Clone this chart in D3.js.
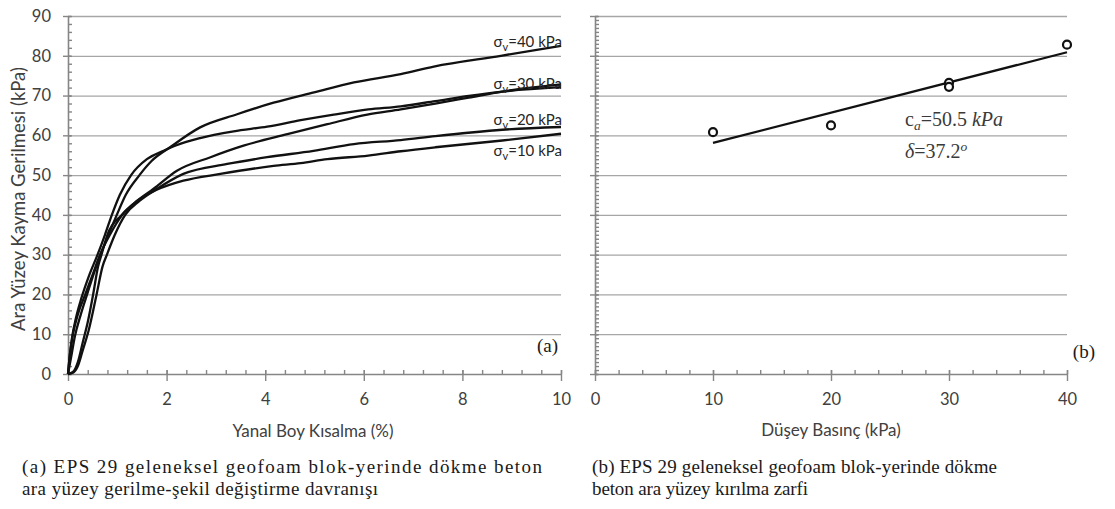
<!DOCTYPE html>
<html lang="tr">
  <head>
    <meta charset="UTF-8" />
    <title>EPS 29 geofoam - beton ara yüzey</title>
    <script src="https://d3js.org/d3.v7.min.js"></script>
    <style>
      body {
        margin: 0;
        background: #fff;
      }
      .tick text {
        font-family: Lato, "Noto Sans", sans-serif;
        font-size: 16.5px;
        fill: #404040;
      }
      .caption {
        font-family: "Liberation Serif", "Times New Roman", serif;
        font-size: 19px;
        fill: #1a1a1a;
      }
    </style>
  </head>
  <body>
    <div class="chart"></div>

    <script>
      // (a) shear stress (kPa) vs lateral strain (%)
      var curve10 = [[0, 0], [0.04, 5], [0.1, 10], [0.2, 15], [0.35, 20], [0.5, 25], [0.65, 30], [0.85, 35], [1.1, 40], [1.4, 43.5], [1.8, 46.3], [2.34, 48.6], [3.09, 50.3], [4.17, 52.3], [4.72, 53], [5.26, 54], [6.09, 54.9], [6.75, 56], [7.45, 57], [8.81, 58.7], [10, 60.4]];
      var curve20 = [[0, 0], [0.1, 0.3], [0.2, 2], [0.3, 6], [0.42, 11], [0.58, 20], [0.7, 27], [0.79, 30], [0.95, 35], [1.16, 40], [1.45, 43.5], [1.8, 46.5], [2.34, 50.3], [3.23, 52.8], [4.04, 54.5], [4.98, 56.1], [5.8, 57.8], [6.75, 58.8], [7.45, 59.8], [8.81, 61.4], [10, 62.1]];
      var curve30a = [[0, 0], [0.03, 4], [0.08, 9], [0.16, 14], [0.27, 19], [0.42, 24.5], [0.6, 30], [0.75, 35], [0.89, 40], [1.05, 45], [1.28, 50], [1.6, 54], [1.94, 56.1], [2.2, 57.5], [2.68, 59.3], [3.36, 61], [4.04, 62.2], [4.72, 63.8], [5.39, 65.2], [6.09, 66.5], [6.75, 67.3], [7.45, 68.6], [8.13, 69.9], [8.81, 71], [10, 72.1]];
      var curve30b = [[0, 0], [0.1, 0.5], [0.2, 3], [0.3, 8], [0.4, 13], [0.51, 20], [0.61, 27], [0.68, 30], [0.8, 35], [1.09, 40], [1.4, 43.5], [1.73, 46.5], [2.21, 51.1], [2.89, 54.5], [3.56, 57.4], [4.45, 60.3], [5.26, 62.8], [6.07, 65.2], [6.75, 66.5], [7.45, 68], [8.13, 69.5], [8.81, 71], [10, 72.8]];
      var curve40 = [[0, 0], [0.06, 4], [0.14, 9.5], [0.26, 15], [0.4, 20.5], [0.53, 25.5], [0.66, 30], [0.82, 35], [0.99, 40], [1.17, 45], [1.45, 50], [1.7, 53.6], [2.07, 57], [2.68, 62], [3.43, 65.3], [4.17, 68.2], [4.99, 70.8], [5.8, 73.3], [6.75, 75.4], [7.42, 77.3], [8.78, 80], [10, 82.5]];
      var curveLabels = ["10", "20", "30", "40"];
      var curveLabelAt = [54.8, 62.6, 71.6, 82.2];

      // (b) failure envelope
      var normalStress = [10, 20, 30, 30, 40];
      var peakShear = [60.8, 62.5, 73.2, 72.2, 82.8];
      var envelope = [[10, 58.1], [40, 80.9]];

      var yTicks = [0, 10, 20, 30, 40, 50, 60, 70, 80, 90];
      var xTicksA = [0, 2, 4, 6, 8, 10];
      var xTicksB = [0, 10, 20, 30, 40];

      var W = 1115, H = 509;
      var plotTop = 16, plotBottom = 374;

      var svg = d3
        .select(".chart")
        .append("svg")
        .attr("width", W)
        .attr("height", H);

      svg.append("rect").attr("width", W).attr("height", H).attr("fill", "#fff");

      var y = d3.scaleLinear().domain([0, 90]).range([plotBottom, plotTop]);
      var xa = d3.scaleLinear().domain([0, 10]).range([68, 561]);
      var xb = d3.scaleLinear().domain([0, 40]).range([595, 1067]);

      function steps(a, b, s) {
        return d3.range(a, b + s / 2, s).map(function (v) {
          return +v.toFixed(2);
        });
      }

      function grayAxis(g) {
        g.selectAll("path.domain").attr("stroke", "#868686").attr("stroke-width", 1.6);
        g.selectAll(".tick line").attr("stroke", "#868686").attr("stroke-width", 1.4);
      }

      function drawFrame(x, xTicks, xMinorStep, yMinorStep, showYLabels) {
        var x0 = x.range()[0], x1 = x.range()[1];

        // horizontal grid
        var grid = svg
          .append("g")
          .attr("transform", "translate(" + x0 + ",0)")
          .call(d3.axisLeft(y).tickValues(yTicks.slice(1)).tickSize(-(x1 - x0)).tickFormat(""));
        grid.select(".domain").remove();
        grid.selectAll(".tick line").attr("stroke", "#a6a6a6").attr("stroke-width", 1.3);

        // y minor ticks (inside)
        var ym = svg
          .append("g")
          .attr("transform", "translate(" + x0 + ",0)")
          .call(d3.axisLeft(y).tickValues(steps(0, 90, yMinorStep)).tickSize(-4).tickFormat(""));
        ym.select(".domain").remove();
        grayAxis(ym);

        // y axis
        var ya = svg
          .append("g")
          .attr("transform", "translate(" + x0 + ",0)")
          .call(
            d3.axisLeft(y).tickValues(yTicks).tickSizeInner(5).tickSizeOuter(0).tickPadding(12)
              .tickFormat(showYLabels ? d3.format("d") : "")
          );
        grayAxis(ya);
        ya.selectAll(".tick line").attr("x1", 3);

        // x minor ticks (inside)
        var xm = svg
          .append("g")
          .attr("transform", "translate(0," + plotBottom + ")")
          .call(d3.axisBottom(x).tickValues(steps(x.domain()[0], x.domain()[1], xMinorStep)).tickSize(-4).tickFormat(""));
        xm.select(".domain").remove();
        grayAxis(xm);

        // x axis
        var xax = svg
          .append("g")
          .attr("transform", "translate(0," + plotBottom + ")")
          .call(d3.axisBottom(x).tickValues(xTicks).tickSizeInner(7).tickSizeOuter(0).tickPadding(12));
        grayAxis(xax);
        xax.selectAll(".tick line").attr("y1", -4);
      }

      drawFrame(xa, xTicksA, 0.4, 2, true);
      drawFrame(xb, xTicksB, 2, 1, false);

      // (a) curves
      var line = d3
        .line()
        .x(function (d) { return xa(d[0]); })
        .y(function (d) { return y(d[1]); })
        .curve(d3.curveMonotoneX);

      svg
        .append("g")
        .selectAll("path")
        .data([curve10, curve20, curve30b, curve30a, curve40])
        .enter()
        .append("path")
        .attr("d", line)
        .attr("fill", "none")
        .attr("stroke", "#111")
        .attr("stroke-width", 2.3)
        .attr("stroke-linejoin", "round");

      var lbl = svg
        .append("g")
        .selectAll("text")
        .data(curveLabels)
        .enter()
        .append("text")
        .attr("x", xa(10) + 1)
        .attr("y", function (d, i) { return y(curveLabelAt[i]); })
        .attr("text-anchor", "end")
        .attr("font-family", "Lato, 'Noto Sans', sans-serif")
        .attr("font-size", 15)
        .attr("fill", "#262626");
      lbl.append("tspan").text("σ");
      lbl.append("tspan").attr("dy", 4).attr("font-size", 11).text("v");
      lbl.append("tspan").attr("dy", -4).text(function (d) { return "=" + d + " kPa"; });

      // (b) envelope and points
      svg
        .append("path")
        .datum(envelope)
        .attr("d", d3.line().x(function (d) { return xb(d[0]); }).y(function (d) { return y(d[1]); }))
        .attr("stroke", "#111")
        .attr("stroke-width", 2.2)
        .attr("fill", "none");

      svg
        .append("g")
        .selectAll("circle")
        .data(normalStress)
        .enter()
        .append("circle")
        .attr("cx", function (d) { return xb(d); })
        .attr("cy", function (d, i) { return y(peakShear[i]); })
        .attr("r", 4)
        .attr("fill", "#fff")
        .attr("stroke", "#111")
        .attr("stroke-width", 2.2);

      var ann = svg
        .append("g")
        .attr("font-family", "'Liberation Serif', 'DejaVu Serif', serif")
        .attr("font-size", 20)
        .attr("fill", "#3a3a3a");
      var t1 = ann.append("text").attr("x", 905).attr("y", 126);
      t1.append("tspan").text("c");
      t1.append("tspan").attr("dy", 4).attr("font-size", 13.5).attr("font-style", "italic").text("a");
      t1.append("tspan").attr("dy", -4).text("=50.5 ");
      t1.append("tspan").attr("font-style", "italic").text("kPa");
      var t2 = ann.append("text").attr("x", 905).attr("y", 158);
      t2.append("tspan").attr("font-style", "italic").text("δ");
      t2.append("tspan").text("=37.2");
      t2.append("tspan").attr("dy", -7).attr("font-size", 13.5).attr("font-style", "italic").text("o");

      // panel marks
      svg.append("text").attr("class", "caption").attr("x", 558).attr("y", 352)
        .attr("text-anchor", "end").text("(a)");
      svg.append("text").attr("class", "caption").attr("x", 1095).attr("y", 358)
        .attr("text-anchor", "end").text("(b)");

      // axis titles
      var sans = "Lato, 'Noto Sans', sans-serif";
      svg.append("text").attr("x", 313).attr("y", 437).attr("text-anchor", "middle")
        .attr("font-family", sans).attr("font-size", 17).attr("fill", "#404040")
        .text("Yanal Boy Kısalma (%)");
      svg.append("text").attr("x", 831).attr("y", 436).attr("text-anchor", "middle")
        .attr("font-family", sans).attr("font-size", 17).attr("fill", "#404040")
        .text("Düşey Basınç (kPa)");
      svg.append("text").attr("transform", "translate(25,199) rotate(-90)").attr("text-anchor", "middle")
        .attr("font-family", sans).attr("font-size", 18.5).attr("fill", "#404040")
        .text("Ara Yüzey Kayma Gerilmesi (kPa)");

      // figure captions
      svg.append("text").attr("class", "caption").attr("x", 22).attr("y", 473)
        .attr("textLength", 520).attr("lengthAdjust", "spacing")
        .text("(a) EPS 29 geleneksel geofoam blok-yerinde dökme beton");
      svg.append("text").attr("class", "caption").attr("x", 22).attr("y", 495)
        .attr("textLength", 356).attr("lengthAdjust", "spacing")
        .text("ara yüzey gerilme-şekil değiştirme davranışı");
      svg.append("text").attr("class", "caption").attr("x", 592).attr("y", 473)
        .attr("textLength", 405).attr("lengthAdjust", "spacing")
        .text("(b) EPS 29 geleneksel geofoam blok-yerinde dökme");
      svg.append("text").attr("class", "caption").attr("x", 592).attr("y", 495)
        .attr("textLength", 216).attr("lengthAdjust", "spacing")
        .text("beton ara yüzey kırılma zarfi");
    </script>
  </body>
</html>
